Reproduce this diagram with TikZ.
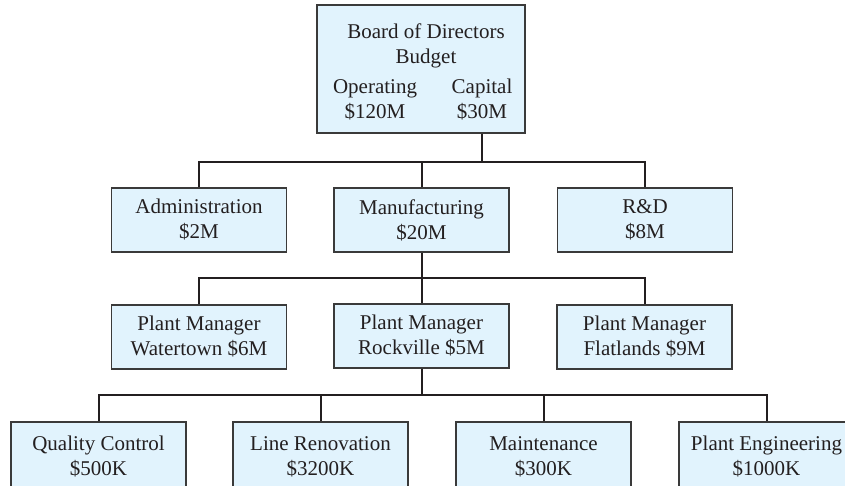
\documentclass[tikz,border=0pt]{standalone}
\usepackage{fontspec}
\setmainfont{Liberation Serif}
\definecolor{boxfill}{HTML}{E1F3FD}
\definecolor{boxline}{HTML}{3A3A3A}
\definecolor{ink}{HTML}{231F20}
\begin{document}
\begin{tikzpicture}[x=1pt,y=-1pt,
  box/.style={draw=boxline, fill=boxfill, line width=1.3pt, minimum width=175pt, minimum height=64pt, inner sep=0pt, align=center, text=ink, font=\fontsize{21}{25}\selectfont},
  txt/.style={anchor=base, inner sep=0pt, text=ink, font=\fontsize{21}{25}\selectfont},
  link/.style={draw=ink, line width=2pt}]
\useasboundingbox (0,0) rectangle (845,485);
\clip (0,0) rectangle (845,485);
% top box
\node[box, minimum width=208pt, minimum height=128pt] (board) at (421,69) {};
\node[txt] (t1) at (426,38) {Board of Directors};
\node[txt] (t2) at (426,63) {Budget};
\node[txt] (op) at (375,93) {Operating};
\node[txt] (opv) at (375,118) {\$120M};
\node[txt] (cap) at (482,93) {Capital};
\node[txt] (capv) at (482,118) {\$30M};
% level 2
\node[box] (admin) at (199,220) {Administration\\\$2M};
\node[box] (manu) at (421.5,220) {Manufacturing\\\$20M};
\node[box] (rd) at (645,220) {R\&D\\\$8M};
% level 3
\node[box] (water) at (199,337) {Plant Manager\\Watertown \$6M};
\node[box] (rock) at (421.5,336) {Plant Manager\\Rockville \$5M};
\node[box] (flat) at (644.5,337) {Plant Manager\\Flatlands \$9M};
% level 4 (cut off by the lower edge)
\tikzset{low/.style={box, minimum height=70pt}}
\node[low] (qc) at (98.5,457) {Quality Control\\\$500K};
\node[low] (lr) at (320.5,457) {Line Renovation\\\$3200K};
\node[low] (maint) at (543.5,457) {Maintenance\\\$300K};
\node[low] (pe) at (766.5,457) {Plant Engineering\\\$1000K};
% junction levels
\coordinate (j1) at (0,162);
\coordinate (j2) at (0,278);
\coordinate (j3) at (0,395);
% connectors
\draw[link] (board.south -| cap) -- (cap |- j1);
\draw[link] (admin.north) -- (admin.north |- j1) -- (rd.north |- j1) -- (rd.north);
\draw[link] (manu.north) -- (manu.north |- j1);
\draw[link] (manu.south) -- (manu.south |- j2);
\draw[link] (water.north) -- (water.north |- j2) -- (flat.north |- j2) -- (flat.north);
\draw[link] (rock.north) -- (rock.north |- j2);
\draw[link] (rock.south) -- (rock.south |- j3);
\draw[link] (qc.north) -- (qc.north |- j3) -- (pe.north |- j3) -- (pe.north);
\draw[link] (lr.north) -- (lr.north |- j3);
\draw[link] (maint.north) -- (maint.north |- j3);
\end{tikzpicture}
\end{document}
